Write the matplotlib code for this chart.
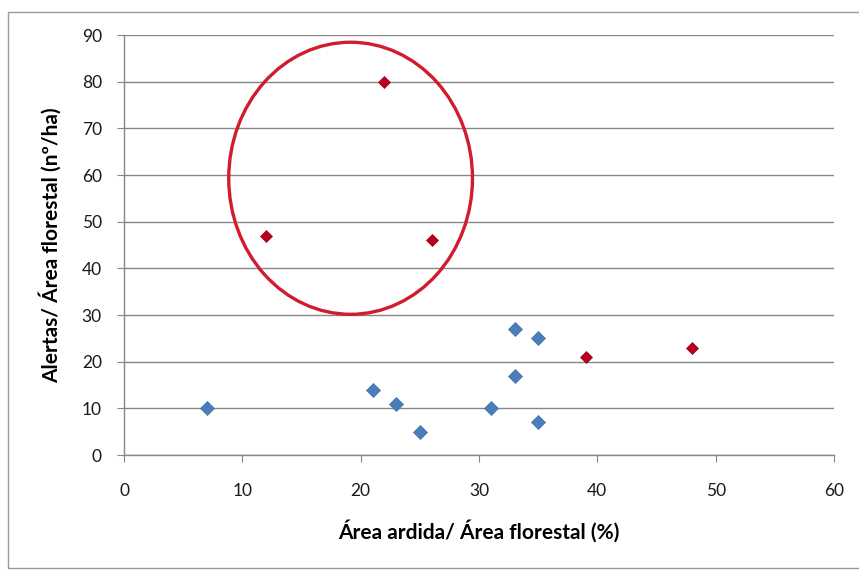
import numpy as np
import matplotlib.pyplot as plt
from matplotlib.patches import Ellipse, Rectangle

# blue series
blue_x = [7, 21, 23, 25, 31, 33, 33, 35, 35]
blue_y = [10, 14, 11, 5, 10, 27, 17, 25, 7]
# dark red series
red_x = [12, 22, 26, 39, 48]
red_y = [47, 80, 46, 21, 23]

x_ticks = np.arange(0, 61, 10)
y_ticks = np.arange(0, 91, 10)

plt.rcParams['font.family'] = ['Lato', 'DejaVu Sans']

fig = plt.figure(figsize=(8.59, 5.70), dpi=100)
ax = fig.add_axes([124/859, 115/570, 710/859, 420/570])

# outer chart frame (Excel style)
fig.patches.append(Rectangle((8/859, 2/570), 860/859, 556/570, transform=fig.transFigure,
                             fill=False, edgecolor='#9a9a9a', linewidth=1.0))

grid_c = '#878787'
ax.set_xlim(0, 60)
ax.set_ylim(0, 90)
ax.set_xticks(x_ticks)
ax.set_yticks(y_ticks)
ax.yaxis.grid(True, color=grid_c, linewidth=1.0)
ax.set_axisbelow(True)
for s in ['top', 'right']:
    ax.spines[s].set_visible(False)
for s in ['left', 'bottom']:
    ax.spines[s].set_color(grid_c)
    ax.spines[s].set_linewidth(1.0)
ax.tick_params(axis='both', direction='out', length=5, color=grid_c, labelsize=12.5,
               labelcolor='#1a1a1a')
ax.tick_params(axis='y', pad=11)
ax.tick_params(axis='x', pad=15)

ax.plot(blue_x, blue_y, 'D', linestyle='None', color='#4a7ebb', markersize=7.2,
        markeredgecolor='#3f6fa8', markeredgewidth=0.5, clip_on=False)
ax.plot(red_x, red_y, 'D', linestyle='None', color='#b8001e', markersize=6.0,
        markeredgecolor='#9a0018', markeredgewidth=0.5, clip_on=False)

ax.add_patch(Ellipse((19.15, 59.3), 20.6, 58.3, fill=False, edgecolor='#d01c2c', linewidth=2.4))

ax.set_xlabel('Área ardida/ Área florestal (%)', fontsize=15, fontweight='bold', labelpad=15)
ax.set_ylabel('Alertas/ Área florestal (nº/ha)', fontsize=15, fontweight='bold', labelpad=14)

plt.savefig('out.png', dpi=100)
